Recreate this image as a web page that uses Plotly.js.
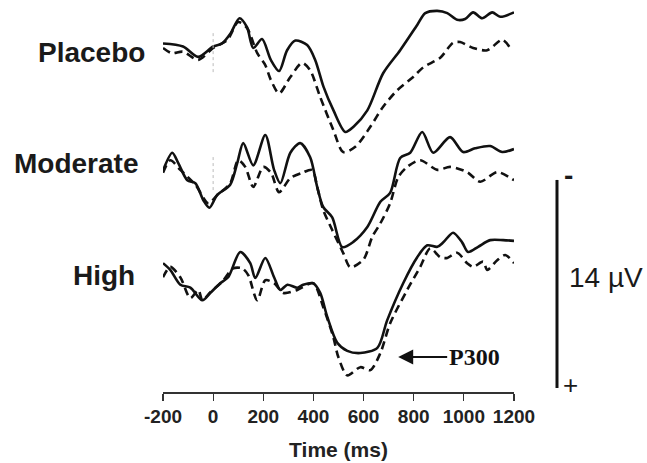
<!DOCTYPE html>
<html>
<head>
<meta charset="utf-8">
<script src="https://cdn.plot.ly/plotly-3.0.1.min.js"></script>
<style>html,body{margin:0;padding:0;background:#fff;}#chart{width:647px;height:463px;}</style>
</head>
<body>
<div id="chart"></div>
<script>
// Time (ms) and amplitude (µV, negative plotted up)
const placeboSolidT = [-200,-120,-60,0,35,70,105,135,160,195,230,263,295,328,375,407,440,480,527,560,615,678,746,814,846,894,934,973,1005,1037,1073,1113,1145,1200];
const placeboSolidV = [-0.1,0.1,0.8,0.1,-0.1,-0.8,-1.8,-1.2,0.2,-0.4,1.0,1.75,0.35,-0.3,0,1.0,2.8,4.4,5.85,5.5,4.4,1.9,0.35,-1.35,-2.15,-2.3,-2.15,-1.7,-1.75,-2.2,-1.8,-2.2,-1.9,-2.2];
const placeboDashT = [-200,-165,-120,-60,0,57,100,135,176,208,230,263,308,355,387,427,479,519,567,627,678,734,798,838,906,957,985,1037,1093,1153,1185];
const placeboDashV = [0.2,0.55,0.45,1.0,0.2,-0.35,-1.55,-1.15,0.55,1.35,2.35,3.25,2.15,1.2,1.7,3.5,5.7,7.2,6.85,5.5,4.15,3.05,2.15,1.5,0.85,-0.15,-0.2,0.2,0.35,-0.35,0.2];

const moderateSolidT = [-200,-163,-139,-103,-71,-39,-15,16,68,96,120,160,208,243,268,308,347,387,415,439,475,515,559,615,667,706,746,786,834,878,945,997,1045,1105,1153,1200];
const moderateSolidV = [-0.1,-1.3,-0.6,0.55,0.75,1.9,2.4,1.55,0.85,-0.6,-1.95,-0.45,-2.5,-0.15,0.75,-1.3,-1.95,-1.0,1.0,2.35,3.05,5.05,4.7,3.7,2.0,1.4,-0.95,-1.3,-2.7,-1.3,-2.35,-1.35,-1.6,-1.75,-1.35,-1.55];
const moderateDashT = [-200,-171,-131,-71,-19,16,68,100,128,160,200,231,263,308,355,395,415,439,475,519,547,599,635,667,706,738,774,826,894,945,1013,1065,1133,1200];
const moderateDashV = [0.05,-0.8,-0.15,0.85,2.1,1.55,0.75,-0.8,-0.35,1.0,-0.35,0.05,1.35,0.4,0.05,-0.15,1.0,2.55,3.9,5.45,6.4,5.9,4.35,3.45,2.1,0.35,-0.35,-0.8,-0.15,-0.35,0,0.65,0,0.55];

const highSolidT = [-200,-171,-131,-91,-43,-11,28,60,108,148,168,208,243,268,296,336,359,399,427,455,495,535,587,655,694,758,814,854,894,918,957,993,1017,1057,1105,1157,1200];
const highSolidV = [-1.0,-0.55,0.45,0.65,1.5,1.0,0.35,-0.05,-1.75,-1.0,0,-1.35,-0.05,0.8,0.45,0.65,0.45,0.35,1.0,2.6,4.35,4.9,5.05,4.7,2.85,0.35,-1.4,-2.2,-2.1,-2.4,-3.05,-2.4,-1.75,-2.1,-2.55,-2.55,-2.5];
const highDashT = [-200,-171,-131,-91,-59,-43,-11,36,80,116,140,176,208,243,280,336,399,439,479,499,535,587,627,667,706,774,826,866,906,934,973,1013,1037,1077,1093,1133,1165,1200];
const highDashV = [-0.05,-0.75,-0.05,1.35,0.8,1.5,0.95,0.25,-0.65,-0.65,-0.2,1.5,0.15,0.35,1.0,0.8,0.35,1.95,3.95,5.3,6.55,6.0,6.2,5.05,3.05,0.8,-0.75,-2.0,-1.4,-1.35,-1.7,-1.0,-0.75,-1.1,-0.55,-1.2,-1.55,-1.0];

const groupLabels = ["Placebo","Moderate","High"];
const xTicks = [-200,0,200,400,600,800,1000,1200];
const scaleBarUV = 14;

// layout constants (vertical stacking of the three groups)
const offsets = [0, 8.55, 15.68];
const labelY = [0.5, 7.97, 15.48];
const labelX = [-0.0456, -0.0655, -0.0741];

const groups = [
  [placeboSolidT, placeboSolidV, placeboDashT, placeboDashV],
  [moderateSolidT, moderateSolidV, moderateDashT, moderateDashV],
  [highSolidT, highSolidV, highDashT, highDashV]
];

const traces = [];
groups.forEach((g, i) => {
  const off = offsets[i];
  traces.push({x: g[0], y: g[1].map(v => v + off), mode: 'lines', type: 'scatter',
    line: {color: '#111', width: 2.6, shape: 'spline', smoothing: 0.8}, hoverinfo: 'skip'});
  traces.push({x: g[2], y: g[3].map(v => v + off), mode: 'lines', type: 'scatter',
    line: {color: '#111', width: 2.6, shape: 'spline', smoothing: 0.8, dash: '8px,5px'}, hoverinfo: 'skip'});
});

const barTop = 9.08;
const annotations = groupLabels.map((t, i) => ({
  text: t, xref: 'paper', yref: 'y', x: labelX[i], y: labelY[i], xanchor: 'right', yanchor: 'middle',
  showarrow: false, font: {family: 'Liberation Sans, Arial, sans-serif', size: 28, color: '#1a1a1a', weight: 'bold'}
}));
annotations.push({text: scaleBarUV + ' \u00b5V', xref: 'paper', yref: 'y', x: 1.1510, y: barTop + scaleBarUV / 2 - 0.45,
  xanchor: 'left', yanchor: 'middle', showarrow: false,
  font: {family: 'Liberation Sans, Arial, sans-serif', size: 28, color: '#1a1a1a'}});
annotations.push({text: '-', xref: 'paper', yref: 'y', x: 1.1560, y: barTop - 0.3,
  xanchor: 'center', yanchor: 'middle', showarrow: false,
  font: {family: 'Liberation Sans, Arial, sans-serif', size: 28, color: '#1a1a1a', weight: 'bold'}});
annotations.push({text: '+', xref: 'paper', yref: 'y', x: 1.1610, y: barTop + scaleBarUV - 0.2,
  xanchor: 'center', yanchor: 'middle', showarrow: false,
  font: {family: 'Liberation Sans, Arial, sans-serif', size: 26, color: '#1a1a1a'}});
annotations.push({text: 'P300', xref: 'x', yref: 'y', x: 738, y: 21.0, ax: 76, ay: 0,
  showarrow: true, arrowhead: 2, arrowsize: 1.5, arrowwidth: 2, arrowcolor: '#111',
  font: {family: 'Liberation Serif, Times New Roman, serif', size: 24, color: '#111', weight: 'bold'}});

const shapes = [
  {type: 'line', xref: 'paper', yref: 'y', x0: 1.1225, x1: 1.1225, y0: barTop, y1: barTop + scaleBarUV,
   line: {color: '#111', width: 3}},
  {type: 'line', xref: 'x', yref: 'y', x0: 0, x1: 0, y0: -0.8, y1: 1.9, line: {color: '#bbb', width: 1, dash: 'dot'}},
  {type: 'line', xref: 'x', yref: 'y', x0: 0, x1: 0, y0: 7.54, y1: 9.76, line: {color: '#bbb', width: 1, dash: 'dot'}}
];

const layout = {
  width: 647, height: 463,
  margin: {l: 163, r: 133, t: 0, b: 71},
  paper_bgcolor: '#fff', plot_bgcolor: '#fff',
  showlegend: false,
  xaxis: {range: [-200, 1200], tickvals: xTicks, ticktext: xTicks.map(String),
    ticks: 'outside', ticklen: 7, tickwidth: 1.2, tickcolor: '#333',
    showline: true, linecolor: '#333', linewidth: 1.5, showgrid: false, zeroline: false,
    tickfont: {family: 'Liberation Sans, Arial, sans-serif', size: 19, color: '#222', weight: 'bold'},
    title: {text: 'Time (ms)', standoff: 16, font: {family: 'Liberation Sans, Arial, sans-serif', size: 21, color: '#222', weight: 'bold'}}},
  yaxis: {range: [23.35, -3.03], visible: false, showgrid: false, zeroline: false},
  annotations: annotations,
  shapes: shapes
};

Plotly.newPlot('chart', traces, layout, {staticPlot: true, displayModeBar: false});
</script>
</body>
</html>
